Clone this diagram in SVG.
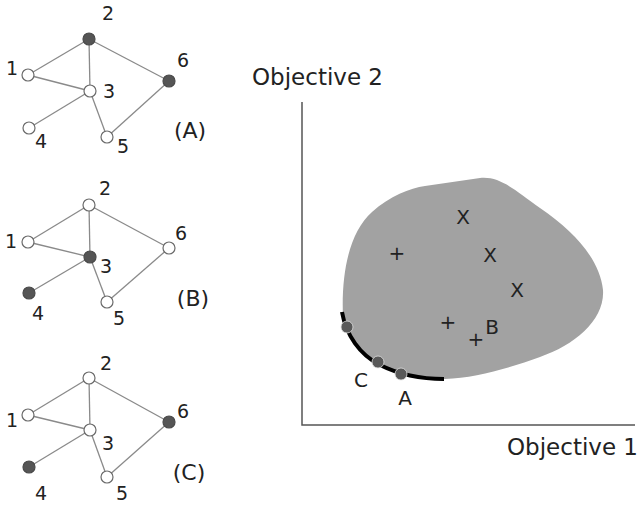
<svg xmlns="http://www.w3.org/2000/svg" width="639" height="507" viewBox="0 0 639 507">
<style>
.e{stroke:#8a8a8a;stroke-width:1.3;fill:none}
.n{fill:#fff;stroke:#6a6a6a;stroke-width:1.2}
.d{fill:#555;stroke:#4a4a4a;stroke-width:1.2}
text{font-family:"DejaVu Sans","Liberation Sans",sans-serif;fill:#222}
.l{font-size:19px;text-anchor:middle}
.g{font-size:22px;text-anchor:middle}
.o{font-size:23px}
.m{font-size:20px;text-anchor:middle}
.p{fill:#595959;stroke:#ddd;stroke-width:0.8}
</style>
<rect width="639" height="507" fill="#fff"/>
<!-- Graph A -->
<g id="graphA">
<g class="e">
<line x1="28" y1="75" x2="89" y2="39"/><line x1="28" y1="75" x2="90" y2="91"/><line x1="89" y1="39" x2="90" y2="91"/><line x1="89" y1="39" x2="169" y2="81"/><line x1="90" y1="91" x2="29" y2="128"/><line x1="90" y1="91" x2="107" y2="137"/><line x1="107" y1="137" x2="169" y2="81"/>
</g>
<g id="A1"><circle class="n" cx="28" cy="75" r="6"/><text class="l" x="12" y="75">1</text></g>
<g id="A2"><circle class="d" cx="89" cy="39" r="6"/><text class="l" x="108" y="20">2</text></g>
<g id="A3"><circle class="n" cx="90" cy="91" r="6"/><text class="l" x="109" y="98">3</text></g>
<g id="A4"><circle class="n" cx="29" cy="128" r="6"/><text class="l" x="41" y="148">4</text></g>
<g id="A5"><circle class="n" cx="107" cy="137" r="6"/><text class="l" x="123" y="153">5</text></g>
<g id="A6"><circle class="d" cx="169" cy="81" r="6"/><text class="l" x="183" y="67">6</text></g>
<text class="g" x="190" y="138">(A)</text>
</g>
<!-- Graph B -->
<g id="graphB">
<g class="e">
<line x1="28" y1="242" x2="89" y2="205"/><line x1="28" y1="242" x2="90" y2="257"/><line x1="89" y1="205" x2="90" y2="257"/><line x1="89" y1="205" x2="169" y2="248"/><line x1="90" y1="257" x2="29" y2="293"/><line x1="90" y1="257" x2="107" y2="302"/><line x1="107" y1="302" x2="169" y2="248"/>
</g>
<g id="B1"><circle class="n" cx="28" cy="242" r="6"/><text class="l" x="11" y="248">1</text></g>
<g id="B2"><circle class="n" cx="89" cy="205" r="6"/><text class="l" x="105" y="195">2</text></g>
<g id="B3"><circle class="d" cx="90" cy="257" r="6"/><text class="l" x="106" y="273">3</text></g>
<g id="B4"><circle class="d" cx="29" cy="293" r="6"/><text class="l" x="38" y="320">4</text></g>
<g id="B5"><circle class="n" cx="107" cy="302" r="6"/><text class="l" x="119" y="325">5</text></g>
<g id="B6"><circle class="n" cx="169" cy="248" r="6"/><text class="l" x="181" y="240">6</text></g>
<text class="g" x="193" y="306">(B)</text>
</g>
<!-- Graph C -->
<g id="graphC">
<g class="e">
<line x1="28" y1="415" x2="89" y2="378"/><line x1="28" y1="415" x2="90" y2="430"/><line x1="89" y1="378" x2="90" y2="430"/><line x1="89" y1="378" x2="169" y2="422"/><line x1="90" y1="430" x2="29" y2="467"/><line x1="90" y1="430" x2="107" y2="477"/><line x1="107" y1="477" x2="169" y2="422"/>
</g>
<g id="C1"><circle class="n" cx="28" cy="415" r="6"/><text class="l" x="12" y="427">1</text></g>
<g id="C2"><circle class="n" cx="89" cy="378" r="6"/><text class="l" x="106" y="370">2</text></g>
<g id="C3"><circle class="n" cx="90" cy="430" r="6"/><text class="l" x="108" y="450">3</text></g>
<g id="C4"><circle class="d" cx="29" cy="467" r="6"/><text class="l" x="41" y="500">4</text></g>
<g id="C5"><circle class="n" cx="107" cy="477" r="6"/><text class="l" x="122" y="500">5</text></g>
<g id="C6"><circle class="d" cx="169" cy="422" r="6"/><text class="l" x="183" y="418">6</text></g>
<text class="g" x="189" y="480">(C)</text>
</g>
<!-- Plot -->
<g id="plot">
<path d="M302,102 L302,425 L635,425" fill="none" stroke="#555" stroke-width="1.5"/>
<text class="o" x="252" y="85">Objective 2</text>
<text class="o" x="507" y="455">Objective 1</text>
<path d="M343,318 C341,270 350,232 372,212 C390,196 410,188 425,186 L480,178 C500,176 515,190 540,208 C575,232 600,260 603,290 C605,320 575,345 540,357 C510,368 475,378 445,379 C410,380 380,368 365,355 C352,343 344,330 343,318 Z" fill="#a2a2a2"/>
<path d="M342,312 C346,335 360,355 380,365 C398,374 420,379 444,379" fill="none" stroke="#000" stroke-width="4"/>
<circle class="p" cx="347" cy="327" r="6"/>
<circle class="p" cx="378" cy="362" r="6"/>
<circle class="p" cx="401" cy="374" r="6"/>
<text class="m" x="463" y="224">X</text>
<text class="m" x="490" y="262">X</text>
<text class="m" x="517" y="297">X</text>
<text class="m" x="397" y="260">+</text>
<text class="m" x="448" y="329">+</text>
<text class="m" x="476" y="346">+</text>
<text class="m" x="492" y="334">B</text>
<text class="m" x="361" y="387">C</text>
<text class="m" x="405" y="405">A</text>
</g>
</svg>
